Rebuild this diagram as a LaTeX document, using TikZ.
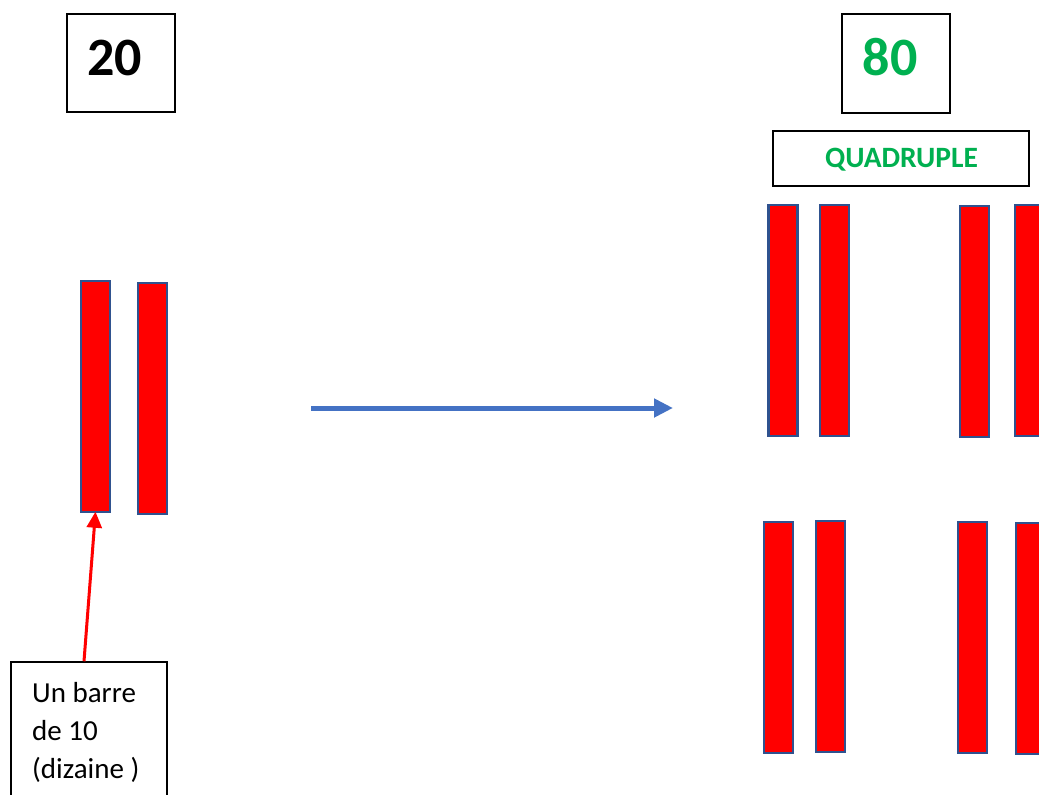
\documentclass[tikz,border=0pt]{standalone}
\usepackage{fontspec}
\setmainfont{Carlito}
\usetikzlibrary{arrows.meta}
\definecolor{barred}{HTML}{FF0000}
\definecolor{barborder}{HTML}{2F528F}
\definecolor{arrowblue}{HTML}{4472C4}
\definecolor{txtgreen}{HTML}{00B050}
\tikzset{
  bar/.style={draw=barborder, fill=barred, line width=2.5pt, minimum width=29pt, minimum height=231pt, inner sep=0pt},
  framebox/.style={draw=black, line width=1.5pt, inner sep=0pt},
  bignum/.style={font=\fontsize{54}{60}\selectfont\bfseries, inner sep=0pt, anchor=base},
}
\begin{document}
\begin{tikzpicture}[x=1pt,y=-1pt]
\clip (0,0) rectangle (1039,795);
\fill[white] (0,0) rectangle (1039,795);
% number boxes
\node[framebox, minimum width=108pt, minimum height=98pt] (box20) at (121,63) {};
\node[bignum] (t20) at (114.5,75) {20};
\node[framebox, minimum width=108pt, minimum height=99pt] (box80) at (896,63.5) {};
\node[bignum, text=txtgreen] (t80) at (890,75) {80};
\node[framebox, minimum width=256pt, minimum height=55pt] (quad) at (901,158.5) {};
\node[font=\fontsize{29.5}{32}\selectfont\bfseries, text=txtgreen, inner sep=0pt, anchor=base] (tquad) at (901.5,167) {QUADRUPLE};
% left bars
\node[bar] (lb1) at (95.5,396.5) {};
\node[bar] (lb2) at (152.5,398.5) {};
% right top bars
\node[bar] (ra) at (783,320.5) {};
\node[bar] (rb) at (834.5,320.5) {};
\node[bar] (rc) at (974.5,321.5) {};
\node[bar] (rd) at (1029.5,320.5) {};
% right bottom bars
\node[bar] (re) at (778.5,637.5) {};
\node[bar] (rf) at (830.5,636.5) {};
\node[bar] (rg) at (972.5,637.5) {};
\node[bar] (rh) at (1030.5,638.5) {};
% blue arrow
\coordinate (bs) at (311,408);
\coordinate (be) at (673,408);
\draw[arrowblue, line width=5pt, -{Triangle[length=19pt,width=18pt]}] (bs) -- (be);
% text box
\node[framebox, minimum width=156pt, minimum height=160pt] (tb) at (89,742) {};
\node[font=\fontsize{29}{38}\selectfont, align=left, inner sep=0pt, anchor=north west] (tbtext) at (32,682) {Un barre\\de 10\\(dizaine )};
% red arrow
\draw[barred, line width=3pt, -{Triangle[length=16pt,width=15pt]}] ([xshift=-5pt]tb.north) -- ([yshift=1.5pt]lb1.south);
\end{tikzpicture}
\end{document}
